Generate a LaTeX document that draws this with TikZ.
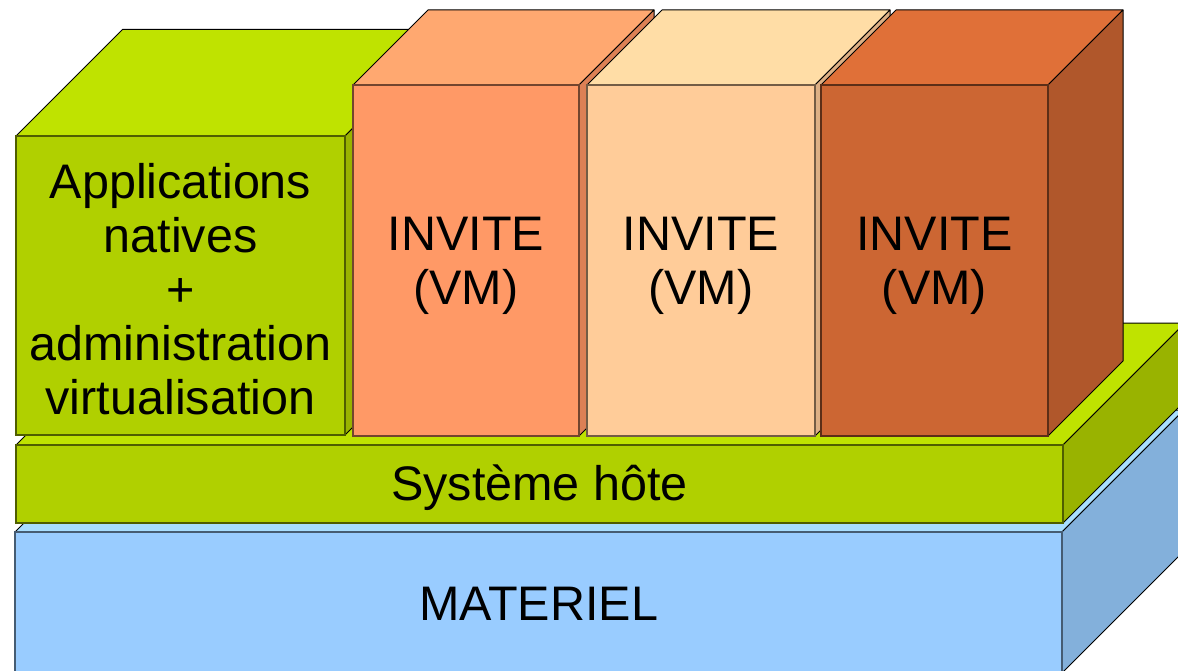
\documentclass[tikz,border=0pt]{standalone}
\usepackage{fontspec}
\setmainfont{Liberation Sans}
\definecolor{greenfront}{HTML}{B0D000}
\definecolor{greentop}{HTML}{BFE300}
\definecolor{greenside}{HTML}{99B300}
\definecolor{bluefront}{HTML}{99CCFF}
\definecolor{bluetop}{HTML}{A8DEFF}
\definecolor{blueside}{HTML}{83B0DB}
\definecolor{orfront}{HTML}{FF9966}
\definecolor{ortop}{HTML}{FFA870}
\definecolor{orside}{HTML}{DD8055}
\definecolor{pefront}{HTML}{FFCC99}
\definecolor{petop}{HTML}{FFDDA6}
\definecolor{peside}{HTML}{DDB085}
\definecolor{dofront}{HTML}{CC6633}
\definecolor{dotop}{HTML}{E07038}
\definecolor{doside}{HTML}{B0572B}
% #1,#2 front top-left; #3 width; #4 height; #5 depth; #6 front; #7 top; #8 side
\newcommand\mycube[8]{%
  \filldraw[fill=#7,draw=black,line width=1pt,line join=round] (#1,#2) -- ++(#5,-#5) -- ++(#3,0) -- ++(-#5,#5) -- cycle;
  \filldraw[fill=#8,draw=black,line width=1pt,line join=round] (#1+#3,#2) -- ++(#5,-#5) -- ++(0,#4) -- ++(-#5,#5) -- cycle;
  \filldraw[fill=#6,draw=#6!45!black,line width=1.2pt] (#1,#2) rectangle ++(#3,#4);
}
\tikzset{lbl/.style={align=center,text=black,inner sep=0pt,font=\fontsize{48.5}{54}\selectfont}}
\begin{document}
\begin{tikzpicture}[x=1pt,y=-1pt]
\useasboundingbox (0,0) rectangle (1178,671);
\begin{scope}
\clip (0,0) rectangle (1178,671);
% hardware
\mycube{15}{532}{1047}{141}{122}{bluefront}{bluetop}{blueside}
% host system
\mycube{16}{445}{1047}{78}{122}{greenfront}{greentop}{greenside}
% native applications
\mycube{16}{136}{329}{299}{106.5}{greenfront}{greentop}{greenside}
% guests
\mycube{353}{85}{226}{351}{75}{orfront}{ortop}{orside}
\mycube{587}{85}{228}{351}{75}{pefront}{petop}{peside}
\mycube{821}{85}{227}{351}{75}{dofront}{dotop}{doside}
\end{scope}
\node[lbl] (apps) at (180.5,289) {Applications\\natives\\+\\administration\\virtualisation};
\node[lbl] (vm1) at (466,266) {INVITE\\(VM)};
\node[lbl] (vm2) at (701,266) {INVITE\\(VM)};
\node[lbl] (vm3) at (934.5,266) {INVITE\\(VM)};
\node[lbl] (host) at (539.5,487.5) {Système hôte};
\node[lbl] (hw) at (538.5,604) {MATERIEL};
\end{tikzpicture}
\end{document}
